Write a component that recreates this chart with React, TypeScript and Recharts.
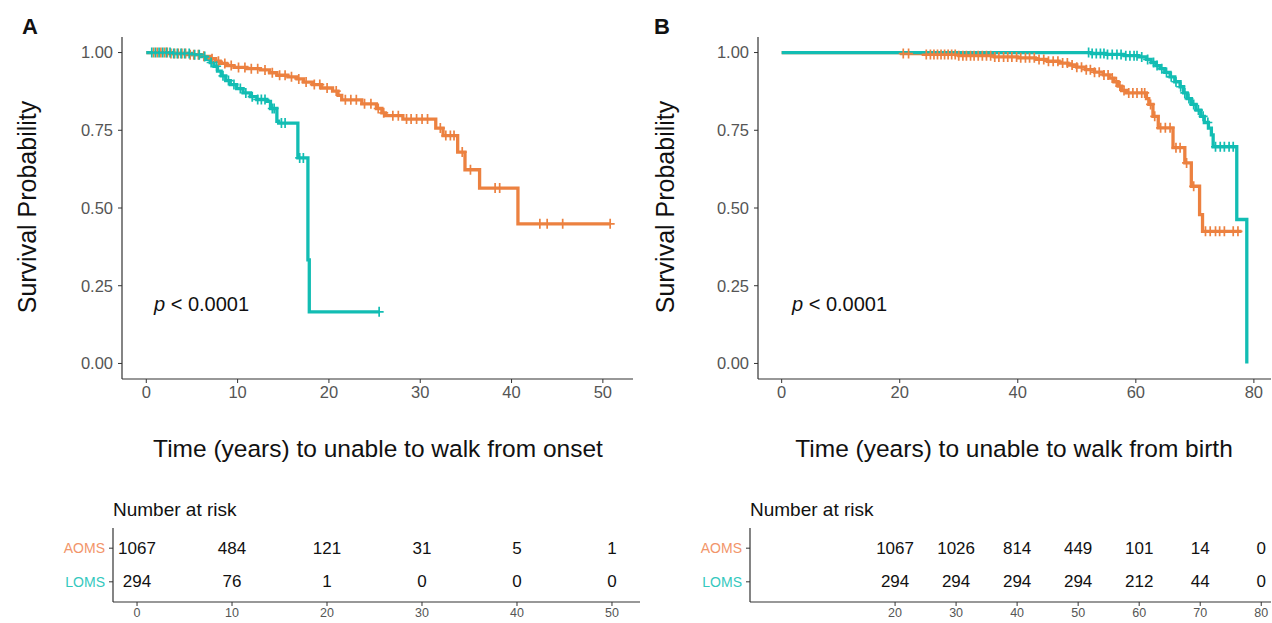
import React from "react";
import { ComposedChart, Line, Scatter, XAxis, YAxis } from "recharts";

const ORANGE = "#EC8140";
const TEAL = "#12BDB3";
const ORANGE_LABEL = "#F2956A";
const TEAL_LABEL = "#34C8BE";
const FONT = '"Liberation Sans", Arial, Helvetica, sans-serif';
const AXIS = "#333333";
const TICK_TEXT = "#555555";

// ---- panel A: time from onset (KM steps as [time, survival]) ----
const onsetAOMS: [number, number][] = [
  [0, 1], [2.5, 0.997], [4.5, 0.993], [6.0, 0.988], [7.0, 0.98], [7.6, 0.972],
  [8.1, 0.965], [8.8, 0.958], [9.6, 0.952], [11.0, 0.948], [12.5, 0.944],
  [13.5, 0.935], [14.3, 0.927], [15.5, 0.922], [16.5, 0.915], [17.2, 0.905],
  [18.2, 0.897], [19.2, 0.886], [20.4, 0.876], [21.0, 0.862], [21.4, 0.848],
  [23.6, 0.835], [25.2, 0.82], [25.8, 0.806], [26.2, 0.797], [28.1, 0.786],
  [31.7, 0.757], [32.5, 0.733], [34.1, 0.68], [34.9, 0.623], [36.5, 0.564],
  [40.7, 0.449], [50.8, 0.449],
];
const onsetLOMS: [number, number][] = [
  [0, 1], [3.0, 0.997], [5.0, 0.993], [6.0, 0.987], [6.6, 0.978], [7.0, 0.968],
  [7.4, 0.956], [7.8, 0.94], [8.2, 0.925], [8.7, 0.91], [9.2, 0.897],
  [9.9, 0.884], [10.6, 0.87], [11.4, 0.858], [12.1, 0.849], [13.2, 0.843],
  [13.6, 0.82], [14.3, 0.779], [14.5, 0.773], [16.6, 0.661], [17.7, 0.333],
  [17.85, 0.166], [25.5, 0.166],
];
const onsetCensorAOMS = [
  0.8, 1.2, 1.6, 2.0, 2.3, 2.7, 3.1, 3.5, 3.9, 4.3, 4.8, 5.2, 5.7, 6.3, 7.2, 7.9,
  8.6, 9.3, 10.1, 10.8, 11.5, 12.2, 13.0, 13.8, 14.6, 15.2, 15.9, 16.7, 17.5,
  18.4, 19.0, 19.8, 20.8, 21.8, 22.4, 23.0, 23.9, 24.6, 25.4, 26.0, 27.0, 27.6,
  28.5, 29.0, 29.6, 30.2, 30.8, 32.2, 32.8, 33.3, 33.7, 34.6, 35.5, 38.2, 38.7,
  43.1, 43.9, 45.6, 50.8,
];
const onsetCensorLOMS = [
  0.6, 1.0, 1.4, 1.8, 2.2, 2.6, 3.0, 3.4, 3.8, 4.2, 4.7, 5.3, 5.8, 6.4, 7.1, 7.7,
  8.4, 9.0, 9.6, 10.3, 10.9, 11.6, 12.2, 12.6, 13.0, 13.8, 14.0, 14.8, 15.2,
  16.8, 17.2, 25.5,
];

// ---- panel B: time from birth ----
const birthAOMS: [number, number][] = [
  [0, 1], [20.3, 0.997], [24, 0.994], [30, 0.99], [36, 0.986], [40, 0.983],
  [43, 0.978], [45, 0.972], [47, 0.966], [48.5, 0.96], [50, 0.953],
  [51.5, 0.945], [53, 0.937], [54.5, 0.928], [55.5, 0.918], [56.3, 0.906],
  [57.0, 0.892], [57.6, 0.878], [58.4, 0.87], [61.8, 0.852], [62.2, 0.833],
  [62.9, 0.795], [63.8, 0.758], [66.3, 0.694], [68.3, 0.645], [69.4, 0.57],
  [70.8, 0.479], [71.3, 0.425], [77.9, 0.425],
];
const birthLOMS: [number, number][] = [
  [0, 1], [52.5, 0.997], [55, 0.994], [58, 0.99], [60.5, 0.986], [61.8, 0.978],
  [62.6, 0.968], [63.4, 0.958], [64.1, 0.948], [64.9, 0.936], [65.8, 0.922],
  [66.6, 0.906], [67.5, 0.89], [68.1, 0.87], [68.7, 0.852], [69.4, 0.833],
  [70.2, 0.815], [71.0, 0.795], [71.6, 0.775], [72.3, 0.757], [72.8, 0.735],
  [73.1, 0.697], [77.1, 0.463], [78.8, 0.0],
];
const birthCensorAOMS = [
  20.6, 21.5, 24.5, 25.2, 25.8, 26.4, 27.0, 27.6, 28.2, 28.8, 29.4, 30.0, 30.7,
  31.3, 32.0, 32.6, 33.3, 34.0, 34.7, 35.4, 36.1, 36.8, 37.6, 38.3, 39.0, 39.8,
  40.5, 41.3, 42.0, 42.8, 43.6, 44.4, 45.2, 46.0, 46.8, 47.6, 48.4, 49.2, 50.0,
  50.8, 51.6, 52.3, 53.0, 53.8, 54.6, 55.3, 56.0, 56.7, 57.3, 58.0, 58.8, 59.5,
  60.2, 61.0, 61.5, 62.5, 63.2, 64.2, 65.0, 65.8, 66.8, 67.5, 68.6, 69.8, 71.8,
  72.6, 73.5, 74.2, 75.0, 76.5, 77.3,
];
const birthCensorLOMS = [
  52.0, 52.6, 53.3, 54.0, 54.6, 55.2, 56.0, 56.8, 57.5, 58.3, 59.0, 59.7, 60.2,
  61.0, 62.0, 63.0, 63.6, 64.4, 65.2, 66.0, 66.8, 67.6, 68.3, 69.0, 69.8, 70.6,
  71.4, 72.2, 73.5, 74.3, 75.0, 75.8, 76.5,
];

// ---- number at risk ----
const groups = ["AOMS", "LOMS"];
const riskTimesA = [0, 10, 20, 30, 40, 50];
const riskAOMS_A = [1067, 484, 121, 31, 5, 1];
const riskLOMS_A = [294, 76, 1, 0, 0, 0];
const riskTimesB = [20, 30, 40, 50, 60, 70, 80];
const riskAOMS_B = [1067, 1026, 814, 449, 101, 14, 0];
const riskLOMS_B = [294, 294, 294, 294, 212, 44, 0];

const yTicks = [0, 0.25, 0.5, 0.75, 1];

const toRows = (pts: [number, number][]) => pts.map(([t, s]) => ({ t, s }));
const survAt = (pts: [number, number][], t: number) => {
  let s = pts[0][1];
  for (const [pt, ps] of pts) if (pt <= t) s = ps;
  return s;
};
const toMarks = (pts: [number, number][], times: number[]) =>
  times.map((t) => ({ t, s: survAt(pts, t) }));

const cross = (color: string) => (p: any) =>
  p.cx == null ? <g /> : (
    <path
      d={`M${p.cx - 4.5},${p.cy}h9M${p.cx},${p.cy - 5}v10`}
      stroke={color}
      strokeWidth={1.7}
      fill="none"
    />
  );

interface KMProps {
  left: number;
  width: number;
  yAxisWidth: number;
  xDomain: [number, number];
  xTicks: number[];
  aoms: [number, number][];
  loms: [number, number][];
  censorAoms: number[];
  censorLoms: number[];
}

const KMChart = (p: KMProps) => (
  <div style={{ position: "absolute", left: p.left, top: 0 }}>
    <ComposedChart
      width={p.width}
      height={412}
      margin={{ top: 37, right: 1, left: 0, bottom: 0 }}
    >
      <XAxis
        type="number"
        dataKey="t"
        domain={p.xDomain}
        ticks={p.xTicks}
        allowDataOverflow
        height={33}
        tickSize={4}
        tickMargin={3}
        axisLine={{ stroke: AXIS, strokeWidth: 1.2 }}
        tickLine={{ stroke: AXIS }}
        tick={{ fill: TICK_TEXT, fontSize: 16.5, fontFamily: FONT }}
      />
      <YAxis
        type="number"
        dataKey="s"
        domain={[-0.05, 1.05]}
        ticks={yTicks}
        allowDataOverflow
        width={p.yAxisWidth}
        tickSize={4}
        tickMargin={5}
        tickFormatter={(v: number) => v.toFixed(2)}
        axisLine={{ stroke: AXIS, strokeWidth: 1.2 }}
        tickLine={{ stroke: AXIS }}
        tick={{ fill: TICK_TEXT, fontSize: 16.5, fontFamily: FONT }}
      />
      <Line
        data={toRows(p.aoms)}
        dataKey="s"
        type="stepAfter"
        stroke={ORANGE}
        strokeWidth={3.3}
        dot={false}
        activeDot={false}
        isAnimationActive={false}
      />
      <Scatter
        data={toMarks(p.aoms, p.censorAoms)}
        shape={cross(ORANGE)}
        isAnimationActive={false}
      />
      <Line
        data={toRows(p.loms)}
        dataKey="s"
        type="stepAfter"
        stroke={TEAL}
        strokeWidth={3.3}
        dot={false}
        activeDot={false}
        isAnimationActive={false}
      />
      <Scatter
        data={toMarks(p.loms, p.censorLoms)}
        shape={cross(TEAL)}
        isAnimationActive={false}
      />
    </ComposedChart>
  </div>
);

interface RiskProps {
  left: number;
  width: number;
  yAxisWidth: number;
  xDomain: [number, number];
  times: number[];
  aoms: number[];
  loms: number[];
}

const groupColor = [ORANGE_LABEL, TEAL_LABEL];

const RiskTable = (p: RiskProps) => {
  const rows = [p.aoms, p.loms].map((vals, gi) =>
    vals.map((n, i) => ({ t: p.times[i], g: groups.length - gi, n }))
  );
  return (
    <div style={{ position: "absolute", left: p.left, top: 520 }}>
      <ComposedChart
        width={p.width}
        height={103}
        margin={{ top: 8, right: 1, left: 0, bottom: 0 }}
      >
        <XAxis
          type="number"
          dataKey="t"
          domain={p.xDomain}
          ticks={p.times}
          allowDataOverflow
          height={21}
          tickSize={4}
          tickMargin={2}
          axisLine={{ stroke: AXIS, strokeWidth: 1.2 }}
          tickLine={{ stroke: AXIS }}
          tick={{ fill: TICK_TEXT, fontSize: 12.5, fontFamily: FONT }}
        />
        <YAxis
          type="number"
          dataKey="g"
          domain={[0.4, 2.6]}
          ticks={[1, 2]}
          width={p.yAxisWidth}
          tickSize={4}
          tickMargin={4}
          axisLine={{ stroke: AXIS, strokeWidth: 1.2 }}
          tickLine={{ stroke: AXIS }}
          tick={(tp: any) => {
            const gi = groups.length - tp.payload.value;
            return (
              <text
                x={tp.x}
                y={tp.y}
                textAnchor="end"
                dominantBaseline="central"
                fill={groupColor[gi]}
                fontSize={14}
                fontFamily={FONT}
              >
                {groups[gi]}
              </text>
            );
          }}
        />
        {rows.map((r, gi) => (
          <Scatter
            key={groups[gi]}
            data={r}
            isAnimationActive={false}
            shape={(sp: any) => (
              <text
                x={sp.cx}
                y={sp.cy}
                textAnchor="middle"
                dominantBaseline="central"
                fill="#111"
                fontSize={17}
                fontFamily={FONT}
              >
                {sp.payload.n}
              </text>
            )}
          />
        ))}
      </ComposedChart>
    </div>
  );
};

const txt: React.CSSProperties = {
  position: "absolute",
  fontFamily: FONT,
  color: "#111",
  whiteSpace: "nowrap",
  lineHeight: 1,
};

const YTitle = ({ cx }: { cx: number }) => (
  <div
    style={{
      ...txt,
      fontSize: 25,
      left: cx,
      top: 207,
      transform: "translate(-50%, -50%) rotate(-90deg)",
    }}
  >
    Survival Probability
  </div>
);

const XTitle = ({ cx, text }: { cx: number; text: string }) => (
  <div style={{ ...txt, fontSize: 24.5, left: cx, top: 449, transform: "translate(-50%, -50%)" }}>
    {text}
  </div>
);

const PValue = ({ x }: { x: number }) => (
  <div style={{ ...txt, fontSize: 20, left: x, top: 294 }}>
    <i>p</i> &lt; 0.0001
  </div>
);

export default function App() {
  return (
    <div
      style={{
        position: "absolute",
        left: 0,
        top: 0,
        width: 1272,
        height: 623,
        background: "#fff",
        overflow: "hidden",
      }}
    >
      <KMChart
        left={0}
        width={634}
        yAxisWidth={122}
        xDomain={[-2.66, 53.3]}
        xTicks={[0, 10, 20, 30, 40, 50]}
        aoms={onsetAOMS}
        loms={onsetLOMS}
        censorAoms={onsetCensorAOMS}
        censorLoms={onsetCensorLOMS}
      />
      <KMChart
        left={640}
        width={632}
        yAxisWidth={118}
        xDomain={[-4.01, 82.9]}
        xTicks={[0, 20, 40, 60, 80]}
        aoms={birthAOMS}
        loms={birthLOMS}
        censorAoms={birthCensorAOMS}
        censorLoms={birthCensorLOMS}
      />

      <div style={{ ...txt, fontSize: 22, fontWeight: "bold", left: 22, top: 16 }}>A</div>
      <div style={{ ...txt, fontSize: 22, fontWeight: "bold", left: 654, top: 16 }}>B</div>

      <YTitle cx={27} />
      <YTitle cx={665} />
      <XTitle cx={378} text="Time (years) to unable to walk from onset" />
      <XTitle cx={1014} text="Time (years) to unable to walk from birth" />
      <PValue x={154} />
      <PValue x={792} />

      <div style={{ ...txt, fontSize: 19, left: 113, top: 500 }}>Number at risk</div>
      <div style={{ ...txt, fontSize: 19, left: 750, top: 500 }}>Number at risk</div>

      <RiskTable
        left={0}
        width={641}
        yAxisWidth={113}
        xDomain={[-2.53, 52.95]}
        times={riskTimesA}
        aoms={riskAOMS_A}
        loms={riskLOMS_A}
      />
      <RiskTable
        left={640}
        width={632}
        yAxisWidth={110}
        xDomain={[-3.77, 81.6]}
        times={riskTimesB}
        aoms={riskAOMS_B}
        loms={riskLOMS_B}
      />
    </div>
  );
}
